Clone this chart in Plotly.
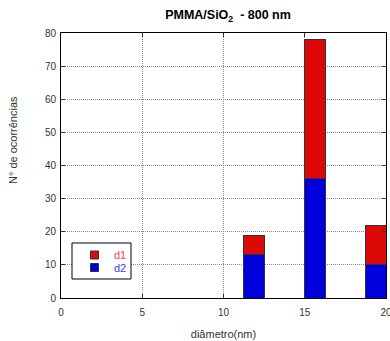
import plotly.graph_objects as go

# Histogram bins (bar centres, nm) and counts per diameter class
bin_centers = [11.875, 15.625, 19.375]
bin_width = 1.25
d2_counts = [13, 36, 10]
d1_counts = [6, 42, 12]   # stacked on top of d2

series_names = ["d1", "d2"]
series_fill = ["#dd0808", "#0000dd"]
series_text = ["#e84848", "#4040e8"]

x_ticks = [0, 5, 10, 15, 20]
y_ticks = [0, 10, 20, 30, 40, 50, 60, 70, 80]

font_family = "Liberation Sans, Arial, sans-serif"
bar_edge = "#333333"

fig = go.Figure()
fig.add_trace(go.Bar(
    x=bin_centers, y=d2_counts, width=bin_width, name=series_names[1],
    marker=dict(color=series_fill[1], line=dict(color=bar_edge, width=1)),
))
fig.add_trace(go.Bar(
    x=bin_centers, y=d1_counts, width=bin_width, name=series_names[0],
    marker=dict(color=series_fill[0], line=dict(color=bar_edge, width=1)),
))

axis_common = dict(
    showline=True, linecolor="black", linewidth=1, mirror="ticks",
    ticks="inside", ticklen=4, tickcolor="#333333",
    showgrid=True, gridcolor="#8a8a8a", griddash="1px,1px", gridwidth=1,
    zeroline=False, automargin=False,
    ticklabeloverflow="allow",
    tickfont=dict(family=font_family, size=10, color="#333333"),
)

# Plot-area geometry (pixels) used for the boxed legend drawn in paper coords
L, R, T, B = 61, 386, 33, 298
W, H = R - L, B - T


def px(xp):
    return (xp - L) / W


def py(yp):
    return (B - yp) / H


shapes = [dict(type="rect", xref="paper", yref="paper",
               x0=px(72), x1=px(131), y0=py(279), y1=py(243),
               line=dict(color="black", width=1), fillcolor="white", layer="above")]
annotations = []
for i, (name, fill, tcol) in enumerate(zip(series_names, series_fill, series_text)):
    top = 251 + i * 12.5
    shapes.append(dict(type="rect", xref="paper", yref="paper",
                       x0=px(90.5), x1=px(98.5), y0=py(top + 8), y1=py(top),
                       line=dict(color=bar_edge, width=1), fillcolor=fill, layer="above"))
    annotations.append(dict(text=name, xref="paper", yref="paper",
                            x=px(112), y=py(top + 4), xanchor="left", yanchor="middle",
                            showarrow=False,
                            font=dict(family=font_family, size=11, color=tcol)))

# Vertical axis label, placed a little above the plot's mid-height
annotations.append(dict(text="N° de ocorrências", xref="paper", yref="paper",
                        x=px(13), y=py(140), xanchor="center", yanchor="middle",
                        textangle=-90, showarrow=False,
                        font=dict(family=font_family, size=11, color="#333333")))

fig.update_layout(
    width=390, height=341,
    margin=dict(l=L, r=390 - R, t=T, b=341 - B, autoexpand=False),
    paper_bgcolor="white", plot_bgcolor="white",
    barmode="stack",
    showlegend=False,
    title=dict(
        text="<b>PMMA/SiO<sub>2</sub>  - 800 nm</b>",
        x=228 / 390, xanchor="center",
        y=1 - 15 / 341, yanchor="middle",
        font=dict(family=font_family, size=12.5, color="black"),
    ),
    xaxis=dict(
        range=[0, 20], tickvals=x_ticks, ticklabelstandoff=5,
        title=dict(text="diâmetro(nm)", standoff=13,
                   font=dict(family=font_family, size=11, color="#333333")),
        **axis_common,
    ),
    yaxis=dict(
        range=[0, 80], tickvals=y_ticks, ticklabelstandoff=2,
        **axis_common,
    ),
    shapes=shapes,
    annotations=annotations,
)

fig.write_html("out.html")
